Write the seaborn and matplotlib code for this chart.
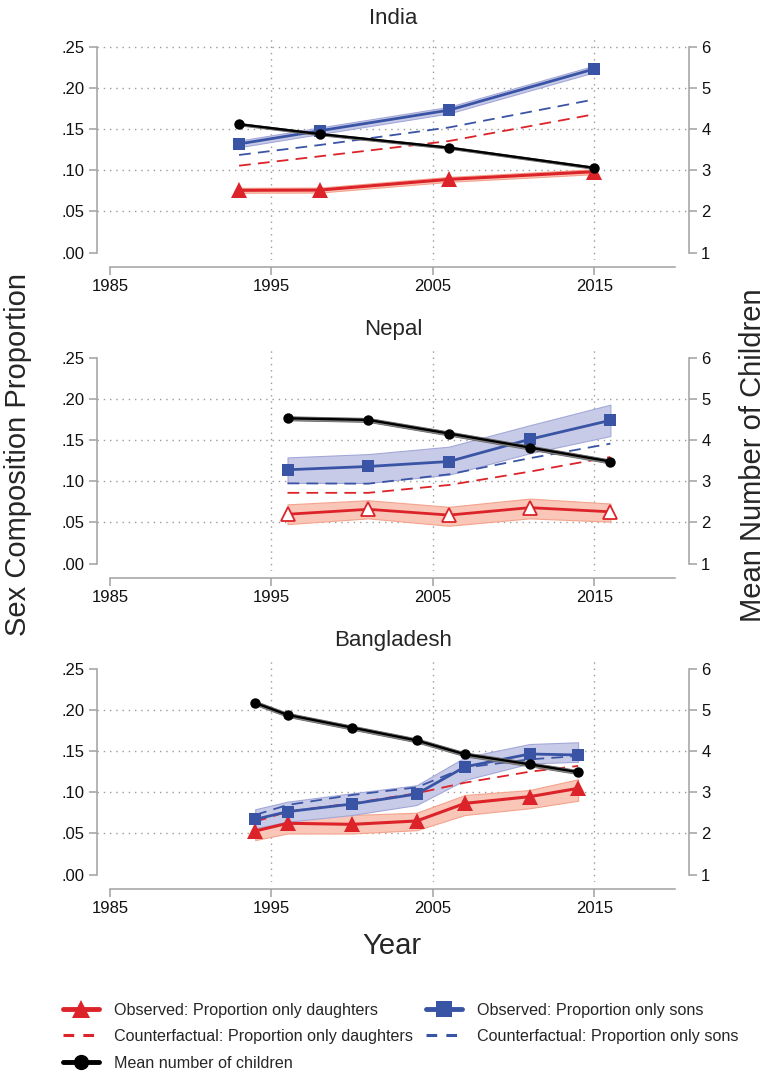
import matplotlib
matplotlib.use("Agg")
import matplotlib.pyplot as plt
import seaborn as sns
from matplotlib.lines import Line2D

sns.set_style("white")
plt.rcParams['font.family'] = ['Liberation Sans', 'DejaVu Sans']

# ---- data ----
countries = ['India', 'Nepal', 'Bangladesh']

india_years = [1993, 1998, 2006, 2015]
india_obs_d = [0.0757, 0.0760, 0.0890, 0.0983]
india_obs_d_lo = [0.0727, 0.0730, 0.0860, 0.0953]
india_obs_d_hi = [0.0787, 0.0790, 0.0920, 0.1013]
india_obs_s = [0.132, 0.148, 0.173, 0.223]
india_obs_s_lo = [0.128, 0.144, 0.169, 0.219]
india_obs_s_hi = [0.136, 0.152, 0.177, 0.227]
india_cf_d = [0.1056, 0.117, 0.1355, 0.168]
india_cf_s = [0.1186, 0.1307, 0.152, 0.186]
india_kids = [4.12, 3.88, 3.55, 3.06]
india_kids_lo = [4.09, 3.85, 3.52, 3.03]
india_kids_hi = [4.15, 3.91, 3.58, 3.09]

nepal_years = [1996, 2001, 2006, 2011, 2016]
nepal_obs_d = [0.060, 0.066, 0.059, 0.068, 0.063]
nepal_obs_d_lo = [0.048, 0.055, 0.046, 0.055, 0.051]
nepal_obs_d_hi = [0.072, 0.077, 0.069, 0.079, 0.073]
nepal_obs_s = [0.114, 0.118, 0.124, 0.151, 0.174]
nepal_obs_s_lo = [0.098, 0.098, 0.108, 0.134, 0.155]
nepal_obs_s_hi = [0.129, 0.133, 0.142, 0.168, 0.193]
nepal_cf_d = [0.086, 0.086, 0.0955, 0.1117, 0.1295]
nepal_cf_s = [0.0975, 0.0971, 0.1085, 0.128, 0.1457]
nepal_kids = [4.53, 4.49, 4.16, 3.82, 3.48]
nepal_kids_lo = [4.48, 4.44, 4.11, 3.77, 3.43]
nepal_kids_hi = [4.58, 4.54, 4.21, 3.87, 3.53]

bangla_years = [1994, 1996, 2000, 2004, 2007, 2011, 2014]
bangla_obs_d = [0.053, 0.0624, 0.0611, 0.0652, 0.0866, 0.0947, 0.1048]
bangla_obs_d_lo = [0.042, 0.050, 0.050, 0.054, 0.0725, 0.0806, 0.0898]
bangla_obs_d_hi = [0.0624, 0.0704, 0.0725, 0.0752, 0.0967, 0.1028, 0.1158]
bangla_obs_s = [0.0672, 0.0765, 0.0858, 0.0979, 0.131, 0.1465, 0.1453]
bangla_obs_s_lo = [0.0563, 0.0643, 0.0725, 0.0846, 0.115, 0.135, 0.137]
bangla_obs_s_hi = [0.0794, 0.0886, 0.0988, 0.1085, 0.1425, 0.1586, 0.1607]
bangla_cf_d = [0.0643, 0.0765, 0.0866, 0.0988, 0.1117, 0.125, 0.132]
bangla_cf_s = [0.0725, 0.0846, 0.0967, 0.106, 0.130, 0.140, 0.144]
bangla_kids = [5.17, 4.88, 4.57, 4.26, 3.92, 3.68, 3.49]
bangla_kids_lo = [5.12, 4.83, 4.52, 4.21, 3.87, 3.63, 3.44]
bangla_kids_hi = [5.22, 4.93, 4.62, 4.31, 3.97, 3.73, 3.54]

left_ticks = [0, 0.05, 0.10, 0.15, 0.20, 0.25]
left_ticklabels = ['.00', '.05', '.10', '.15', '.20', '.25']
right_ticks = [1, 2, 3, 4, 5, 6]
x_ticks = [1985, 1995, 2005, 2015]
legend_left = ['Observed: Proportion only daughters',
               'Counterfactual: Proportion only daughters',
               'Mean number of children']
legend_right = ['Observed: Proportion only sons',
                'Counterfactual: Proportion only sons']

panels = [
    (india_years, india_obs_d, india_obs_d_lo, india_obs_d_hi, india_obs_s, india_obs_s_lo,
     india_obs_s_hi, india_cf_d, india_cf_s, india_kids, india_kids_lo, india_kids_hi),
    (nepal_years, nepal_obs_d, nepal_obs_d_lo, nepal_obs_d_hi, nepal_obs_s, nepal_obs_s_lo,
     nepal_obs_s_hi, nepal_cf_d, nepal_cf_s, nepal_kids, nepal_kids_lo, nepal_kids_hi),
    (bangla_years, bangla_obs_d, bangla_obs_d_lo, bangla_obs_d_hi, bangla_obs_s, bangla_obs_s_lo,
     bangla_obs_s_hi, bangla_cf_d, bangla_cf_s, bangla_kids, bangla_kids_lo, bangla_kids_hi),
]

# ---- style ----
RED = '#dc2329'
BLUE = '#3a54a5'
RED_FILL = '#f9c6b8'
RED_EDGE = '#f4a38c'
BLUE_FILL = '#c8cbe8'
BLUE_EDGE = '#a3a8d8'
GRID = '#9a9a9a'
SPINE = '#a0a0a0'
W, H = 767, 1073
ylo, yhi = -0.009, 0.259
xlo, xhi = 1984.18, 2020.87

fig = plt.figure(figsize=(W / 100, H / 100), dpi=100)

tops = [39.3, 350.3, 661.3]
for i, (name, data, top) in enumerate(zip(countries, panels, tops)):
    (yrs, od, od_lo, od_hi, os_, os_lo, os_hi, cfd, cfs, kids, k_lo, k_hi) = data
    ax = fig.add_axes([96.7 / W, 1 - (top + 220.8) / H, (689 - 96.7) / W, 220.8 / H])
    ax.set_xlim(xlo, xhi)
    ax.set_ylim(ylo, yhi)

    # dotted grid
    gy = [0.05, 0.10, 0.15, 0.20] + ([0.25] if i == 0 else [])
    for g in gy:
        ax.axhline(g, color=GRID, lw=1.0, ls=(0, (1, 3.5)), zorder=0)
    for g in [1995, 2005, 2015]:
        ax.axvline(g, color=GRID, lw=1.0, ls=(0, (1, 3.5)), zorder=0)

    # confidence bands
    ax.fill_between(yrs, od_lo, od_hi, facecolor=RED_FILL, edgecolor=RED_EDGE, lw=0.8, zorder=1)
    ax.fill_between(yrs, os_lo, os_hi, facecolor=BLUE_FILL, edgecolor=BLUE_EDGE, lw=0.8, zorder=1)

    # counterfactual
    sns.lineplot(x=yrs, y=cfd, ax=ax, color=RED, lw=1.3, zorder=2)
    ax.lines[-1].set_dashes((6.5, 4))
    sns.lineplot(x=yrs, y=cfs, ax=ax, color=BLUE, lw=1.3, zorder=2)
    ax.lines[-1].set_dashes((6.5, 4))

    # observed
    if name == 'Nepal':
        sns.lineplot(x=yrs, y=od, ax=ax, color=RED, lw=2.0, marker='^', markersize=10,
                     markerfacecolor='white', markeredgecolor=RED, markeredgewidth=1.3, zorder=3)
    else:
        sns.lineplot(x=yrs, y=od, ax=ax, color=RED, lw=2.2, marker='^', markersize=11,
                     markeredgecolor=RED, markeredgewidth=0, zorder=3)
    sns.lineplot(x=yrs, y=os_, ax=ax, color=BLUE, lw=2.0, marker='s', markersize=9,
                 markeredgecolor=BLUE, markeredgewidth=0, zorder=3)

    ax.set_xlabel('')
    ax.set_ylabel('')
    ax.set_title(name, fontsize=16, pad=11)

    # mean number of children on right axis
    ax2 = ax.twinx()
    ax2.set_ylim(1 + 20 * ylo, 1 + 20 * yhi)
    ax2.fill_between(yrs, k_lo, k_hi, facecolor='#8a8a8a', edgecolor='#6a6a6a', lw=0.6, zorder=1)
    sns.lineplot(x=yrs, y=kids, ax=ax2, color='black', lw=1.7, marker='o', markersize=7.5,
                 markeredgecolor='black', markeredgewidth=0, zorder=3)
    ax2.set_ylabel('')

    for a in (ax, ax2):
        for s in a.spines.values():
            s.set_visible(False)
    ax.spines['left'].set_visible(True)
    ax.spines['left'].set_bounds(0, 0.25)
    ax.spines['left'].set_color(SPINE)
    ax.spines['left'].set_linewidth(1.1)
    ax.spines['bottom'].set_visible(True)
    ax.spines['bottom'].set_bounds(1985, 2020)
    ax.spines['bottom'].set_position(('outward', 5))
    ax.spines['bottom'].set_color(SPINE)
    ax.spines['bottom'].set_linewidth(1.1)
    ax2.spines['right'].set_visible(True)
    ax2.spines['right'].set_bounds(1, 6)
    ax2.spines['right'].set_color(SPINE)
    ax2.spines['right'].set_linewidth(1.1)

    ax.set_yticks(left_ticks)
    ax.set_yticklabels(left_ticklabels)
    ax.set_xticks(x_ticks)
    ax.set_xticklabels([str(t) for t in x_ticks])
    ax2.set_yticks(right_ticks)
    ax2.set_yticklabels([str(t) for t in right_ticks])
    ax.tick_params(axis='both', direction='out', length=5.8, width=1.1, color=SPINE,
                   labelsize=12, labelcolor='#111111', pad=3)
    ax.tick_params(axis='x', pad=2.5)
    ax2.tick_params(axis='y', direction='out', length=5.8, width=1.1, color=SPINE,
                    labelsize=12, labelcolor='#111111', pad=3)
    ax.tick_params(left=True, bottom=True)
    ax2.tick_params(right=True)

fig.text(18 / W, 1 - 455 / H, 'Sex Composition Proportion', rotation=90, fontsize=21,
         ha='center', va='center')
fig.text(753 / W, 1 - 455 / H, 'Mean Number of Children', rotation=90, fontsize=21,
         ha='center', va='center')
fig.text(392 / W, 1 - 946 / H, 'Year', fontsize=21, ha='center', va='center')

handles_left = [
    Line2D([], [], color=RED, lw=3.5, marker='^', markersize=13, markeredgewidth=0),
    Line2D([], [], color=RED, lw=2.2, dashes=(3.5, 3)),
    Line2D([], [], color='black', lw=3.5, marker='o', markersize=11, markeredgewidth=0),
]
handles_right = [
    Line2D([], [], color=BLUE, lw=3.5, marker='s', markersize=12, markeredgewidth=0),
    Line2D([], [], color=BLUE, lw=2.2, dashes=(3.5, 3)),
]
leg_kw = dict(loc='upper left', frameon=False, fontsize=11.6, handlelength=2.23,
              handletextpad=0.93, labelspacing=0.72, borderaxespad=0, borderpad=0)
fig.legend(handles_left, legend_left, bbox_to_anchor=(63 / W, 1 - 1002.5 / H), **leg_kw)
fig.legend(handles_right, legend_right, bbox_to_anchor=(426 / W, 1 - 1002.5 / H), **leg_kw)

fig.savefig('out.png', dpi=100)
